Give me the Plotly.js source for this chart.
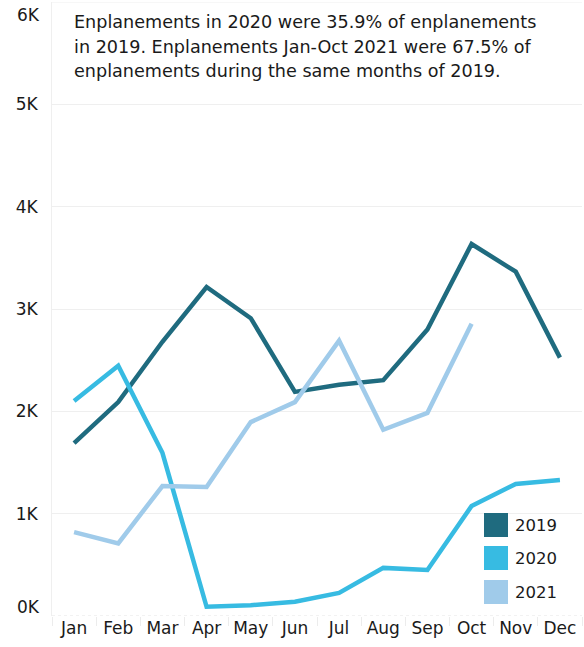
<!DOCTYPE html>
<html>
<head>
<meta charset="utf-8">
<script src="https://cdn.plot.ly/plotly-3.0.1.min.js"></script>
<style>html,body{margin:0;padding:0;background:#fff}#chart{width:584px;height:647px}</style>
</head>
<body>
<div id="chart"></div>
<script>
const months = ["Jan","Feb","Mar","Apr","May","Jun","Jul","Aug","Sep","Oct","Nov","Dec"];
const seriesNames = ["2019","2020","2021"];
const seriesColors = ["#1F6B7F","#37BBE2","#A0CBEA"];
const values2019 = [1690,2090,2680,3215,2910,2190,2260,2305,2800,3635,3365,2525];
const values2020 = [2100,2445,1595,90,105,140,225,470,450,1075,1290,1330];
const values2021 = [820,710,1270,1260,1895,2090,2690,1820,1985,2855];
const tickVals = [1000,2000,3000,4000,5000];
const tickText = ["1K","2K","3K","4K","5K"];
const edgeTickVals = [0,6000];
const edgeTickText = ["0K","6K"];
const noteLines = [
  "Enplanements in 2020 were 35.9% of enplanements",
  "in 2019. Enplanements Jan-Oct 2021 were 67.5% of",
  "enplanements during the same months of 2019."
];

const FONT = "'DejaVu Sans', sans-serif";
const TXT = {family: FONT, size: 17, color: "#1a1a1a"};
const allValues = [values2019, values2020, values2021];

const traces = allValues.map((vals, i) => ({
  type: "scatter",
  mode: "lines",
  name: seriesNames[i],
  x: months.slice(0, vals.length),
  y: vals,
  line: {color: seriesColors[i], width: 4.5},
  showlegend: false,
  hoverinfo: "x+y+name"
}));

const PLOT_TOP = 2, PLOT_H = 614, PLOT_L = 52, PLOT_W = 530;
const py = (pix) => 1 - (pix - PLOT_TOP) / PLOT_H;
const px = (pix) => (pix - PLOT_L) / PLOT_W;

const shapes = [
  {type: "line", xref: "paper", yref: "y", x0: 0, x1: 1, y0: 0, y1: 0,
   line: {color: "#e4e4e4", width: 1, dash: "dot"}},
  {type: "line", xref: "paper", yref: "y", x0: 0, x1: 1, y0: 6000, y1: 6000,
   line: {color: "#efefef", width: 1}}
];
const annotations = [];
const noteCenters = [22, 46.5, 71];
noteLines.forEach((t, i) => {
  annotations.push({xref: "paper", yref: "paper", x: px(71.5), y: py(noteCenters[i]),
    xanchor: "left", yanchor: "middle", align: "left", showarrow: false, text: t,
    font: {family: FONT, size: 17.6, color: "#1a1a1a"}});
});
edgeTickVals.forEach((v, i) => {
  annotations.push({xref: "paper", yref: "y", x: 0, y: v, xanchor: "right", yanchor: "middle",
    xshift: -10, yshift: i === 0 ? 9 : -13, showarrow: false, text: edgeTickText[i],
    font: TXT});
});
// legend (drawn as swatches + labels)
const legCenters = [525, 558, 592];
seriesNames.forEach((nm, i) => {
  const yc = py(legCenters[i]);
  const h = 12 / PLOT_H;
  shapes.push({type: "rect", xref: "paper", yref: "paper", x0: px(484), x1: px(508),
    y0: yc - h, y1: yc + h, fillcolor: seriesColors[i], line: {width: 0}});
  annotations.push({xref: "paper", yref: "paper", x: px(513), y: yc,
    xanchor: "left", yanchor: "middle", showarrow: false, text: nm,
    font: {family: FONT, size: 16.5, color: "#1a1a1a"}});
});

const layout = {
  width: 584, height: 647,
  margin: {l: 52, r: 2, t: 2, b: 31},
  paper_bgcolor: "#ffffff", plot_bgcolor: "#ffffff",
  showlegend: false,
  font: TXT,
  xaxis: {
    type: "category", categoryorder: "array", categoryarray: months,
    range: [-0.5, 11.5], fixedrange: true,
    showgrid: false, zeroline: false, showline: false,
    ticks: "outside", tickson: "boundaries", ticklen: 9, tickcolor: "#ececec", tickwidth: 1,
    tickfont: TXT
  },
  yaxis: {
    range: [0, 6000], fixedrange: true,
    tickvals: tickVals, ticktext: tickText,
    showgrid: true, gridcolor: "#efefef", gridwidth: 1,
    zeroline: false, showline: true, linecolor: "#efefef", linewidth: 1,
    ticks: "", ticklabelstandoff: 10,
    tickfont: TXT
  },
  shapes: shapes,
  annotations: annotations
};

Plotly.newPlot("chart", traces, layout, {displayModeBar: false, staticPlot: true});
</script>
</body>
</html>
